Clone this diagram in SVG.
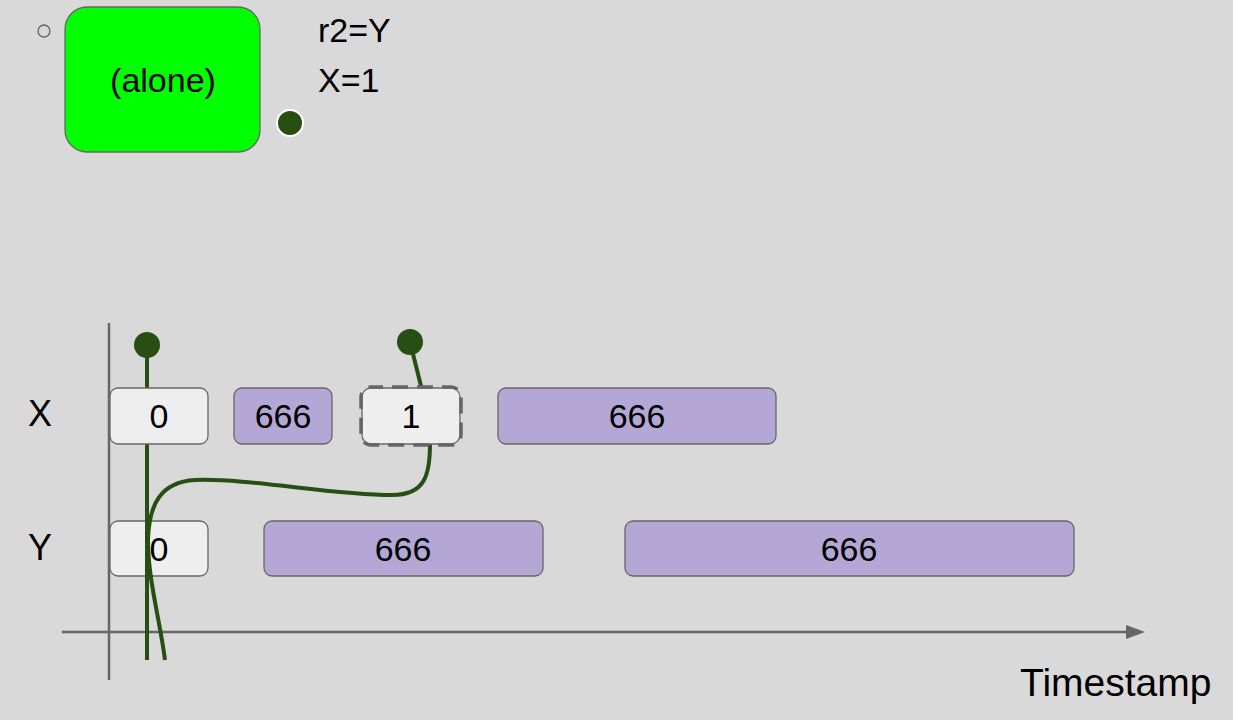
<svg xmlns="http://www.w3.org/2000/svg" width="1233" height="720" viewBox="0 0 1233 720">
<defs>
<style>
text{font-family:"Liberation Sans",Arial,sans-serif;fill:#000}
.box{stroke:#666;stroke-width:1.3}
.val{fill:#eeeeee}
.old{fill:#b4a7d6}
.t{font-size:34px;text-anchor:middle;dominant-baseline:central}
.ax{stroke:#666;stroke-width:2.5;fill:none}
.g{stroke:#274e13;stroke-width:4;fill:none}
.dot{fill:#274e13}
</style>
<marker id="arr" viewBox="0 0 19 14" refX="1" refY="7" markerWidth="19" markerHeight="14" markerUnits="userSpaceOnUse" orient="auto">
<path d="M0 0 L19 7 L0 14 Z" fill="#666"/>
</marker>
</defs>
<rect width="1233" height="720" fill="#d9d9d9"/>

<g id="thread">
<circle cx="44" cy="31" r="6" fill="#d9d9d9" stroke="#666" stroke-width="1.3"/>
<rect x="65" y="7" width="195" height="145" rx="22" fill="#00ff00" stroke="#666" stroke-width="1.3"/>
<text x="163" y="80" class="t">(alone)</text>
<circle cx="290" cy="123" r="13" class="dot" stroke="#fff" stroke-width="2"/>
<text x="318" y="42" font-size="34">r2=Y</text>
<text x="318" y="92" font-size="34">X=1</text>
</g>

<g id="axes">
<line x1="109" y1="323" x2="109" y2="680" class="ax"/>
<line x1="62" y1="632" x2="1127" y2="632" class="ax" marker-end="url(#arr)"/>
<text x="1020" y="696" font-size="39">Timestamp</text>
<text x="40" y="413" class="t" font-size="36" style="font-size:36px">X</text>
<text x="40" y="547" class="t" style="font-size:36px">Y</text>
</g>

<g id="rowY">
<g id="y0"><rect x="110" y="521" width="98" height="55" rx="8" class="box val"/><text x="159" y="549" class="t">0</text></g>
<g id="y1"><rect x="264" y="521" width="279" height="55" rx="8" class="box old"/><text x="403" y="549" class="t">666</text></g>
<g id="y2"><rect x="625" y="521" width="449" height="55" rx="8" class="box old"/><text x="849" y="549" class="t">666</text></g>
</g>

<g id="connectors">
<line x1="147" y1="345" x2="147" y2="660" class="g"/>
<line x1="410" y1="342" x2="422" y2="390" class="g"/>
<path d="M430 444 C430 475 425 495 392 495 C330 495 250 478 195 480 C160 482 149 505 148 540 C148 580 160 620 165 660" class="g"/>
<circle cx="147" cy="345" r="13" class="dot"/>
<circle cx="410" cy="342" r="13" class="dot"/>
</g>

<g id="rowX">
<g id="x0"><rect x="110" y="388" width="98" height="56" rx="8" class="box val"/><text x="159" y="416" class="t">0</text></g>
<g id="x1"><rect x="234" y="388" width="98" height="56" rx="8" class="box old"/><text x="283" y="416" class="t">666</text></g>
<g id="x2"><rect x="362" y="388" width="98" height="56" rx="9" class="box val"/><rect x="361" y="387" width="100" height="58" rx="10" fill="none" stroke="#666" stroke-width="3.5" stroke-dasharray="16 9" stroke-dashoffset="4"/><text x="411" y="416" class="t">1</text></g>
<g id="x3"><rect x="498" y="388" width="278" height="56" rx="8" class="box old"/><text x="637" y="416" class="t">666</text></g>
</g>
</svg>
